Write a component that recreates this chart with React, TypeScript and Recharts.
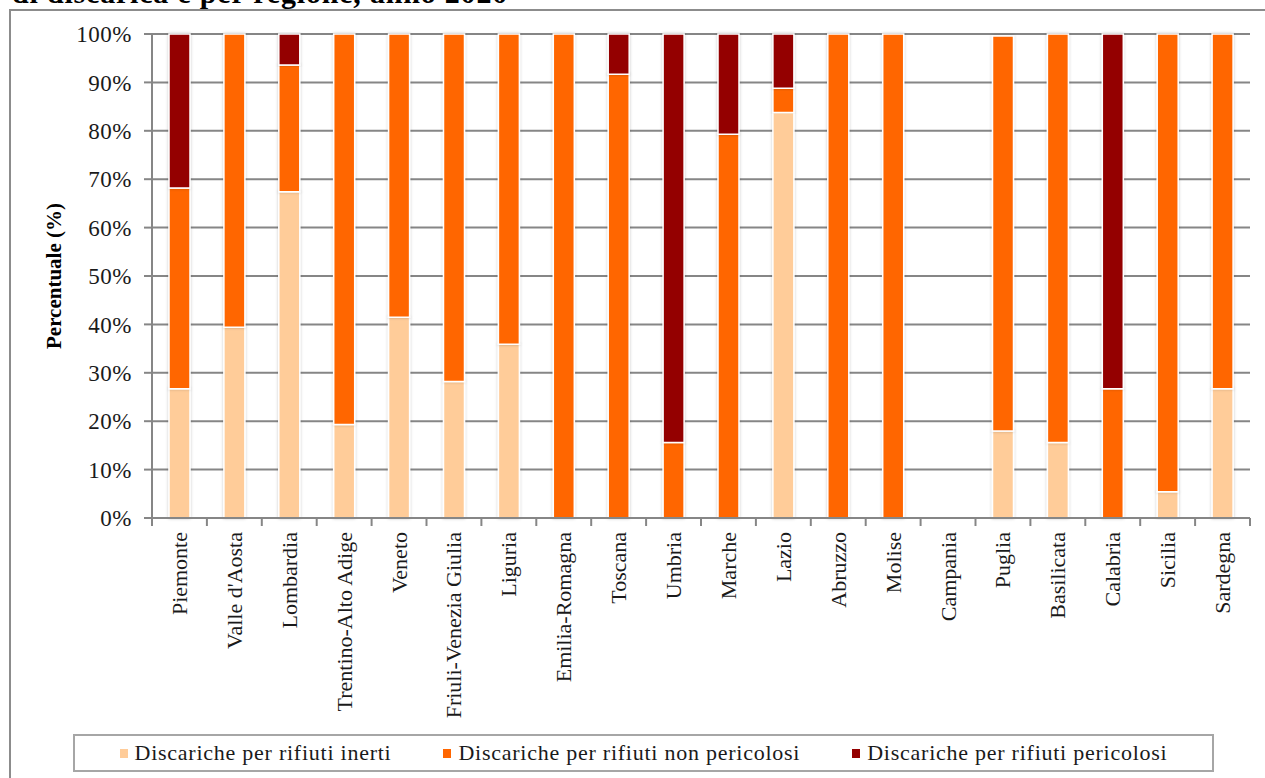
import React from "react";
import {
  BarChart,
  Bar,
  XAxis,
  YAxis,
  CartesianGrid,
  Legend,
} from "recharts";

const regions = [
  "Piemonte",
  "Valle d'Aosta",
  "Lombardia",
  "Trentino-Alto Adige",
  "Veneto",
  "Friuli-Venezia Giulia",
  "Liguria",
  "Emilia-Romagna",
  "Toscana",
  "Umbria",
  "Marche",
  "Lazio",
  "Abruzzo",
  "Molise",
  "Campania",
  "Puglia",
  "Basilicata",
  "Calabria",
  "Sicilia",
  "Sardegna",
];

const inerti = [26.7, 39.4, 67.4, 19.3, 41.5, 28.2, 35.9, 0, 0, 0, 0, 83.8, 0, 0, 0, 18.0, 15.6, 0, 5.4, 26.7];
const nonPericolosi = [41.5, 60.6, 26.2, 80.7, 58.5, 71.8, 64.1, 100, 91.7, 15.6, 79.3, 5.0, 100, 100, 0, 81.6, 84.4, 26.7, 94.6, 73.3];
const pericolosi = [31.8, 0, 6.4, 0, 0, 0, 0, 0, 8.3, 84.4, 20.7, 11.2, 0, 0, 0, 0, 0, 73.3, 0, 0];

const yTicks = [0, 10, 20, 30, 40, 50, 60, 70, 80, 90, 100];

const seriesNames = [
  "Discariche per rifiuti inerti",
  "Discariche per rifiuti non pericolosi",
  "Discariche per rifiuti pericolosi",
];
const seriesColors = ["#FFCC99", "#FF6600", "#940000"];

const data = regions.map((region, i) => ({
  region,
  inerti: inerti[i],
  nonPericolosi: nonPericolosi[i],
  pericolosi: pericolosi[i],
}));

const FONT = '"Liberation Serif", "Times New Roman", serif';
const GRID = "#868686";

function RegionTick(props: any) {
  const { x, y, payload, index, visibleTicksCount, width } = props;
  const half = payload.offset || width / visibleTicksCount / 2;
  return (
    <g>
      <line x1={x - half} x2={x - half} y1={y} y2={y + 8} stroke={GRID} strokeWidth={2} />
      {index === visibleTicksCount - 1 && (
        <line x1={x + half} x2={x + half} y1={y} y2={y + 8} stroke={GRID} strokeWidth={2} />
      )}
      <text
        transform={`translate(${x},${y + 14}) rotate(-90)`}
        textAnchor="end"
        dominantBaseline="central"
        fontSize={22}
        fontFamily={FONT}
        fill="#1a1a1a"
      >
        {payload.value}
      </text>
    </g>
  );
}

function LegendBox() {
  return (
    <div
      style={{
        width: 1137,
        height: 34,
        border: "2px solid #a6a6a6",
        background: "#fff",
        display: "flex",
        alignItems: "center",
        justifyContent: "center",
        gap: 52,
        fontFamily: FONT,
        fontSize: 22,
        letterSpacing: 0.75,
        color: "#1a1a1a",
      }}
    >
      {seriesNames.map((name, i) => (
        <div key={name} style={{ display: "flex", alignItems: "center" }}>
          <span
            style={{
              display: "inline-block",
              width: 8,
              height: 9,
              background: seriesColors[i],
              marginRight: 7,
            }}
          />
          <span style={{ fontFamily: FONT }}>{name}</span>
        </div>
      ))}
    </div>
  );
}

export default function App() {
  return (
    <div
      style={{
        position: "absolute",
        left: 0,
        top: 0,
        width: 1265,
        height: 778,
        overflow: "hidden",
        background: "#fff",
        fontFamily: FONT,
      }}
    >
      <div
        style={{
          position: "absolute",
          left: 12,
          top: -22,
          fontSize: 30,
          lineHeight: "30px",
          fontWeight: "bold",
          letterSpacing: 0.8,
          color: "#000",
          whiteSpace: "nowrap",
        }}
      >
        di discarica e per regione, anno 2020
      </div>
      <div
        style={{
          position: "absolute",
          left: 9,
          top: 9,
          width: 1270,
          height: 800,
          border: "2px solid #8c8c8c",
        }}
      />
      <div style={{ position: "absolute", left: 0, top: 0 }}>
        <BarChart
          width={1265}
          height={778}
          data={data}
          margin={{ top: 34, right: 15, left: 0, bottom: 0 }}
          barSize={21}
        >
          <defs>
            <filter id="barShadow" x="-30%" y="-5%" width="160%" height="110%">
              <feDropShadow dx="0" dy="0" stdDeviation="1.6" floodColor="#000" floodOpacity="0.22" />
            </filter>
          </defs>
          <CartesianGrid vertical={false} stroke={GRID} strokeWidth={2} />
          <XAxis
            dataKey="region"
            interval={0}
            height={260}
            tickSize={0}
            tickMargin={0}
            tickLine={false}
            axisLine={{ stroke: GRID, strokeWidth: 2 }}
            tick={<RegionTick />}
          />
          <YAxis
            width={152}
            domain={[0, 100]}
            ticks={yTicks}
            interval={0}
            tickFormatter={(v: number) => `${v}%`}
            tickSize={8}
            tickMargin={12}
            axisLine={{ stroke: GRID, strokeWidth: 2 }}
            tickLine={{ stroke: GRID, strokeWidth: 2 }}
            tick={{ fontSize: 23, fontFamily: FONT, fill: "#1a1a1a", letterSpacing: 0.5 }}
            label={({ viewBox }: any) => {
              const cx = viewBox.x + 54;
              const cy = viewBox.y + viewBox.height / 2;
              return (
                <text
                  x={cx}
                  y={cy}
                  transform={`rotate(-90, ${cx}, ${cy})`}
                  textAnchor="middle"
                  dominantBaseline="central"
                  fontSize={21}
                  fontWeight="bold"
                  fontFamily={FONT}
                  fill="#000"
                >
                  Percentuale (%)
                </text>
              );
            }}
          />
          <YAxis
            yAxisId="right"
            orientation="right"
            width={0}
            domain={[0, 100]}
            tick={false}
            tickLine={false}
            axisLine={{ stroke: "#a6a6a6", strokeWidth: 2 }}
          />
          <Legend
            layout="horizontal"
            verticalAlign="middle"
            align="center"
            wrapperStyle={{ position: "absolute", left: 73, top: 734, width: 1141 }}
            content={() => <LegendBox />}
          />
          <Bar
            dataKey="inerti"
            name={seriesNames[0]}
            stackId="a"
            fill={seriesColors[0]}
            stroke="#fff"
            strokeWidth={1.5}
            filter="url(#barShadow)"
            isAnimationActive={false}
          />
          <Bar
            dataKey="nonPericolosi"
            name={seriesNames[1]}
            stackId="a"
            fill={seriesColors[1]}
            stroke="#fff"
            strokeWidth={1.5}
            filter="url(#barShadow)"
            isAnimationActive={false}
          />
          <Bar
            dataKey="pericolosi"
            name={seriesNames[2]}
            stackId="a"
            fill={seriesColors[2]}
            stroke="#fff"
            strokeWidth={1.5}
            filter="url(#barShadow)"
            isAnimationActive={false}
          />
        </BarChart>
      </div>
    </div>
  );
}
